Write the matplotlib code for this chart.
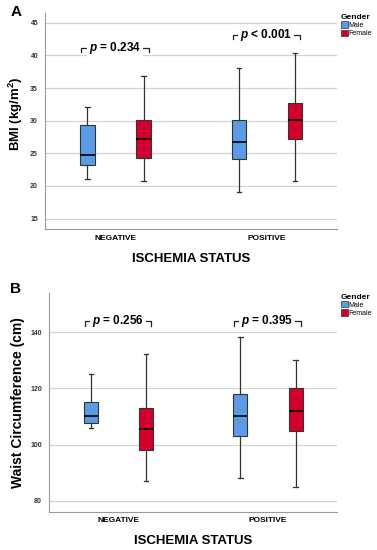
import matplotlib
matplotlib.use("Agg")
import matplotlib.pyplot as plt
from matplotlib.patches import Patch

# Дані
categories = ["NEGATIVE", "POSITIVE"]
genders = ["Male", "Female"]

# Панель A: BMI (kg/m2) - [NEG male, NEG female, POS male, POS female]
bmi_whislo = [21.1, 20.7, 19.0, 20.8]
bmi_q1 = [23.2, 24.3, 24.2, 27.15]
bmi_med = [24.8, 27.15, 26.8, 30.1]
bmi_q3 = [29.4, 30.1, 30.1, 32.75]
bmi_whishi = [32.1, 36.8, 38.1, 40.4]
bmi_pvals = ["= 0.234", "< 0.001"]

# Панель B: Waist circumference (cm)
wc_whislo = [106.0, 87.0, 88.0, 85.0]
wc_q1 = [107.6, 98.0, 103.1, 105.0]
wc_med = [110.1, 105.4, 110.1, 112.1]
wc_q3 = [115.0, 113.1, 118.0, 120.0]
wc_whishi = [125.0, 132.1, 138.1, 130.0]
wc_pvals = ["= 0.256", "= 0.395"]

colors = ["#5b9be6", "#d3002d"]
plt.rcParams["font.family"] = ["Liberation Sans", "DejaVu Sans"]
plt.rcParams["mathtext.fontset"] = "custom"
plt.rcParams["mathtext.rm"] = "Liberation Sans"
plt.rcParams["mathtext.bf"] = "Liberation Sans:bold"
plt.rcParams["mathtext.it"] = "Liberation Sans:italic"
plt.rcParams["mathtext.bfit"] = "Liberation Sans:bold:italic"


def draw_panel(ax, lo, q1, med, q3, hi, pvals, ylim, yticks, ylabel, ylabel_size, ylabel_xy,
               bracket_y, tick_drop):
    offset = 0.185
    width = 0.095
    for i, cat in enumerate(categories):
        for j, g in enumerate(genders):
            k = i * 2 + j
            stats = [{"whislo": lo[k], "q1": q1[k], "med": med[k], "q3": q3[k], "whishi": hi[k], "fliers": []}]
            pos = i + (offset if j else -offset)
            ax.bxp(stats, positions=[pos], widths=width, patch_artist=True, showfliers=False,
                   boxprops=dict(facecolor=colors[j], edgecolor="#333333", linewidth=0.8),
                   medianprops=dict(color="black", linewidth=1.2),
                   whiskerprops=dict(color="#333333", linewidth=0.9),
                   capprops=dict(color="#333333", linewidth=0.9), capwidths=0.03,
                   manage_ticks=False, zorder=3)
        # скобка з p-значенням
        x1, x2 = i - offset - width / 2 + 0.005, i + offset + width / 2 - 0.012
        yb = bracket_y[i]
        ax.plot([x1, x1, x2, x2], [yb - tick_drop, yb, yb, yb - tick_drop],
                color="#222222", linewidth=0.9, zorder=3, clip_on=False)
        ax.text(i - 0.005, yb, r"$\mathbfit{p}$ " + pvals[i], ha="center", va="center",
                fontsize=8.5, fontweight="bold", zorder=4,
                bbox=dict(facecolor="white", edgecolor="none", pad=1.5))

    ax.set_xlim(-0.465, 1.462)
    ax.set_ylim(*ylim)
    ax.set_yticks(yticks)
    ax.set_xticks(range(len(categories)))
    ax.set_xticklabels(categories, fontsize=6, fontweight="bold")
    ax.tick_params(axis="y", labelsize=5, length=0, pad=5, labelcolor="#333333")
    ax.tick_params(axis="x", length=0, pad=4)
    for lab in ax.get_yticklabels():
        lab.set_fontweight("bold")
    ax.grid(axis="y", color="#d4d4d4", linewidth=0.9, zorder=0)
    ax.set_axisbelow(True)
    ax.spines["top"].set_visible(False)
    ax.spines["right"].set_visible(False)
    ax.spines["left"].set_color("#999999")
    ax.spines["bottom"].set_color("#999999")
    ax.set_ylabel(ylabel, fontsize=ylabel_size, fontweight="bold")
    ax.yaxis.set_label_coords(*ylabel_xy)
    ax.set_xlabel("ISCHEMIA STATUS", fontsize=9.5, fontweight="bold", labelpad=8)

    handles = [Patch(facecolor=colors[j], edgecolor="#333333", linewidth=0.5, label=g) for j, g in enumerate(genders)]
    leg = ax.legend(handles=handles, title="Gender", loc="upper left", bbox_to_anchor=(1.01, 1.0),
                    frameon=False, fontsize=5, title_fontsize=6, handlelength=1.0, handleheight=1.0,
                    handletextpad=0.1, labelspacing=0.1, borderaxespad=0.0, borderpad=0.1,
                    alignment="left")
    leg.get_title().set_fontweight("bold")


fig = plt.figure(figsize=(3.77, 5.5), dpi=100)
ax_a = fig.add_axes([0.1194, 0.5836, 0.7745, 0.3927])
ax_b = fig.add_axes([0.13, 0.0696, 0.764, 0.398])

draw_panel(ax_a, bmi_whislo, bmi_q1, bmi_med, bmi_q3, bmi_whishi, bmi_pvals,
           (13.4, 46.5), [15, 20, 25, 30, 35, 40, 45], r"BMI (kg/m$^\mathbf{2}$)", 9.5, (-0.068, 0.532),
           [41.2, 43.2], 0.7)
draw_panel(ax_b, wc_whislo, wc_q1, wc_med, wc_q3, wc_whishi, wc_pvals,
           (76.1, 154), [80, 100, 120, 140], "Waist Circumference (cm)", 10, (-0.085, 0.5),
           [143.9, 143.9], 1.7)

fig.text(0.027, 0.978, "A", fontsize=11, fontweight="bold", va="center")
fig.text(0.027, 0.475, "B", fontsize=11, fontweight="bold", va="center")

fig.savefig("out.png", dpi=100)
